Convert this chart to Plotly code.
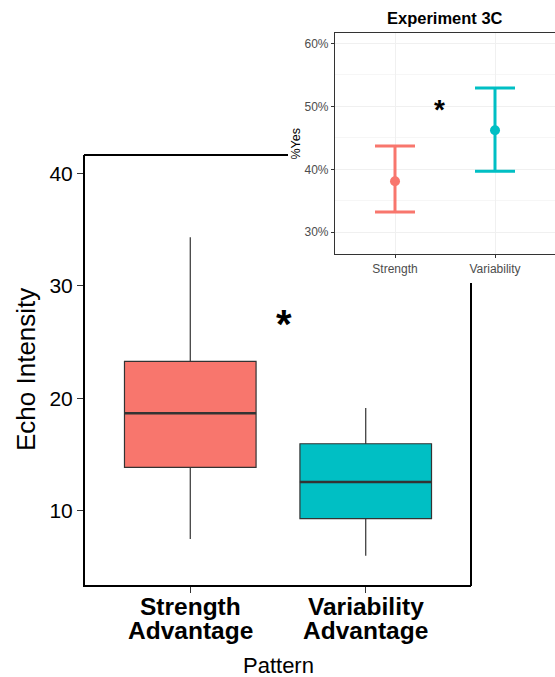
import plotly.graph_objects as go

# ---- data ----
patterns = ["Strength Advantage", "Variability Advantage"]
tick_line1 = ["Strength", "Variability"]
tick_line2 = ["Advantage", "Advantage"]
lower_whisker = [7.46, 5.98]
q1 = [13.84, 9.27]
median = [18.65, 12.54]
q3 = [23.27, 15.94]
upper_whisker = [34.33, 19.12]
colors = ["#F8766D", "#00BFC4"]
y_ticks = [10, 20, 30, 40]

inset_labels = ["Strength", "Variability"]
inset_mean = [38.1, 46.2]
inset_low = [33.2, 39.7]
inset_high = [43.7, 52.9]
inset_ticks = [30, 40, 50, 60]

W, H = 555, 677
FONT = "Liberation Sans, Arial, sans-serif"


def px(x):
    return x / W


def py(y):
    return 1 - y / H


fig = go.Figure()

BOX_W = 0.75
for i, name in enumerate(patterns):
    fig.add_trace(go.Box(
        x=[i], q1=[q1[i]], median=[median[i]], q3=[q3[i]],
        lowerfence=[lower_whisker[i]], upperfence=[upper_whisker[i]],
        width=BOX_W, whiskerwidth=0, fillcolor=colors[i], boxpoints=False,
        line=dict(color="#333333", width=1.2), name=name,
        showlegend=False, hoverinfo="skip", xaxis="x", yaxis="y"))
    fig.add_trace(go.Scatter(
        x=[i - BOX_W / 2, i + BOX_W / 2], y=[median[i], median[i]],
        mode="lines", line=dict(color="#333333", width=2.6),
        showlegend=False, hoverinfo="skip", xaxis="x", yaxis="y"))

for i, name in enumerate(inset_labels):
    fig.add_trace(go.Scatter(
        x=[i], y=[inset_mean[i]], mode="markers",
        marker=dict(color=colors[i], size=10),
        error_y=dict(type="data", symmetric=False,
                     array=[inset_high[i] - inset_mean[i]],
                     arrayminus=[inset_mean[i] - inset_low[i]],
                     color=colors[i], thickness=3, width=20),
        showlegend=False, hoverinfo="skip", xaxis="x2", yaxis="y2"))

annotations = []
for i in range(len(patterns)):
    annotations.append(dict(text="<b>%s</b>" % tick_line1[i], x=i, y=py(606),
                            xref="x", yref="paper", xanchor="center", yanchor="middle",
                            showarrow=False, font=dict(size=24.5, color="black", family=FONT)))
    annotations.append(dict(text="<b>%s</b>" % tick_line2[i], x=i, y=py(630),
                            xref="x", yref="paper", xanchor="center", yanchor="middle",
                            showarrow=False, font=dict(size=24.5, color="black", family=FONT)))

annotations += [
    dict(text="<b>*</b>", x=0.534, y=27.1, xref="x", yref="y",
         xanchor="center", yanchor="middle",
         showarrow=False, font=dict(size=40, color="black", family=FONT),
         yshift=-6),
    dict(text="<b>*</b>", x=0.44, y=50, xref="x2", yref="y2",
         xanchor="center", yanchor="middle",
         showarrow=False, font=dict(size=28, color="black", family=FONT),
         yshift=-3),
    dict(text="<b>Experiment 3C</b>", x=px(445), y=py(18),
         xref="paper", yref="paper", xanchor="center", yanchor="middle",
         showarrow=False, font=dict(size=16.5, color="black", family=FONT)),
    dict(text="%Yes", x=px(295), y=py(143.5), xref="paper", yref="paper",
         xanchor="center", yanchor="middle", showarrow=False, textangle=-90,
         font=dict(size=12.5, color="black", family=FONT)),
    dict(text="Echo Intensity", x=px(26), y=py(370),
         xref="paper", yref="paper", xanchor="center", yanchor="middle",
         showarrow=False, textangle=-90,
         font=dict(size=26, color="black", family=FONT)),
    dict(text="Pattern", x=px(278), y=py(665), height=22, valign="middle",
         xref="paper", yref="paper", xanchor="center", yanchor="middle",
         showarrow=False, font=dict(size=22, color="black", family=FONT)),
]

fig.update_layout(
    width=W, height=H, margin=dict(l=0, r=0, t=0, b=0),
    paper_bgcolor="white", plot_bgcolor="white",
    font=dict(family=FONT, color="black"),
    xaxis=dict(domain=[px(85), px(471)], range=[-0.6, 1.6],
               tickvals=[0, 1], ticktext=["", ""],
               showline=True, linecolor="black", linewidth=2,
               ticks="outside", ticklen=6, tickcolor="#333333",
               showgrid=False, zeroline=False),
    yaxis=dict(domain=[py(585), py(155)], range=[3.37, 41.64],
               tickvals=y_ticks, ticktext=[str(v) for v in y_ticks],
               showline=True, linecolor="black", linewidth=2,
               ticks="outside", ticklen=6, tickcolor="#333333",
               tickfont=dict(size=21, color="black", family=FONT),
               showgrid=False, zeroline=False),
    xaxis2=dict(domain=[px(335), 1], anchor="y2", range=[-0.6, 1.6],
                tickvals=[0, 1], ticktext=inset_labels,
                showline=True, mirror=True, linecolor="#333333", linewidth=1.2,
                ticks="outside", ticklen=3, tickcolor="#333333",
                tickfont=dict(size=12, color="#4d4d4d", family=FONT),
                showgrid=True, gridcolor="#f0f0f0", gridwidth=1, zeroline=False),
    yaxis2=dict(domain=[py(254.3), py(32.7)], anchor="x2", range=[26.5, 61.7],
                tickvals=inset_ticks, ticktext=["%d%%" % v for v in inset_ticks],
                showline=True, linecolor="#333333", linewidth=1.2,
                ticks="outside", ticklen=3, tickcolor="#333333",
                tickfont=dict(size=12, color="#4d4d4d", family=FONT),
                showgrid=True, gridcolor="#f0f0f0", gridwidth=1, zeroline=False,
                minor=dict(tickvals=[35, 45, 55], showgrid=True,
                           gridcolor="#f6f6f6", gridwidth=0.6, ticks="")),
    shapes=[
        dict(type="line", xref="paper", yref="paper",
             x0=px(84), x1=px(288), y0=py(155), y1=py(155),
             line=dict(color="black", width=2), layer="above"),
        dict(type="line", xref="paper", yref="paper",
             x0=px(471), x1=px(471), y0=py(283), y1=py(586),
             line=dict(color="black", width=2), layer="above"),
    ],
    annotations=annotations,
)

fig.write_html("out.html")
